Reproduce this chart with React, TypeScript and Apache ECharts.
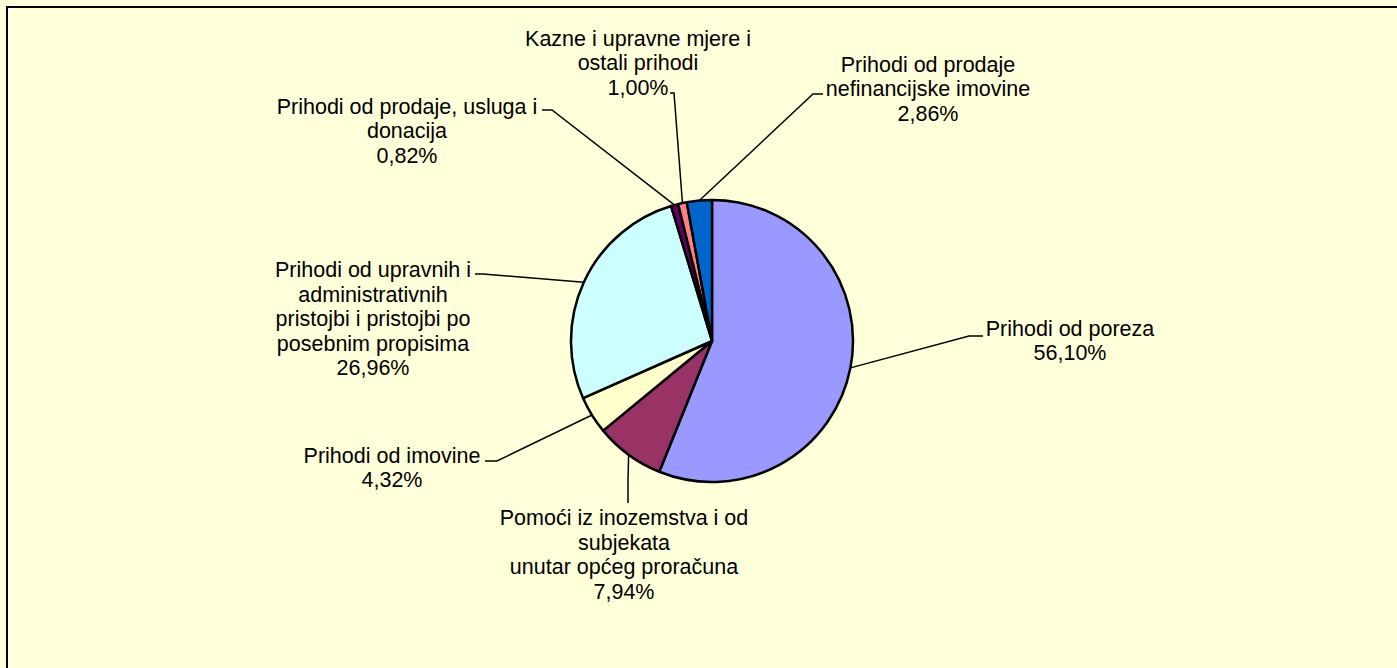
import React, { useEffect, useRef } from "react";
import * as echarts from "echarts";

const categories = [
  "Prihodi od poreza",
  "Pomoći iz inozemstva i od\nsubjekata\nunutar općeg proračuna",
  "Prihodi od imovine",
  "Prihodi od upravnih i\nadministrativnih\npristojbi i pristojbi po\nposebnim propisima",
  "Prihodi od prodaje, usluga i\ndonacija",
  "Kazne i upravne mjere i\nostali prihodi",
  "Prihodi od prodaje\nnefinancijske imovine",
];
const shares = [56.1, 7.94, 4.32, 26.96, 0.82, 1.0, 2.86];
const colors = ["#9999FF", "#993366", "#FFFFCC", "#CCFFFF", "#660066", "#FF8080", "#0066CC"];

// label layout: [centerX, centerY, elbowX, elbowY, endX, endY]
const labelSpots = [
  [1070, 341, 969, 336, 983, 336],
  [624, 555, 628, 480, 628, 503],
  [392, 468, 497, 461, 485, 461],
  [373, 319, 483, 274, 475, 274],
  [407, 131, 552, 110, 542, 110],
  [638, 63, 674, 93, 670, 93],
  [928, 89, 813, 94, 823, 94],
];

const BG = "#FFFFD9";
const CX = 712;
const CY = 341;
const R = 141;

export default function App() {
  const ref = useRef<HTMLDivElement>(null);
  useEffect(() => {
    if (!ref.current) return;
    const chart = echarts.init(ref.current, undefined, { renderer: "svg" });
    const total = shares.reduce((a, b) => a + b, 0);
    const cum: number[] = [];
    let acc = 0;
    shares.forEach((v) => {
      cum.push(acc + v / 2);
      acc += v;
    });
    chart.setOption({
      animation: false,
      backgroundColor: BG,
      textStyle: { fontFamily: "'Liberation Sans', Arial, sans-serif" },
      graphic: [
        {
          type: "rect",
          shape: { x: 7, y: 7, width: 1420, height: 700 },
          style: { fill: "none", stroke: "#000", lineWidth: 2 },
          silent: true,
          z: 100,
        },
      ],
      series: [
        {
          type: "pie",
          center: [CX, CY],
          radius: R,
          startAngle: 90,
          clockwise: true,
          avoidLabelOverlap: false,
          data: categories.map((name, i) => ({
            name,
            value: shares[i],
            itemStyle: { color: colors[i] },
          })),
          itemStyle: { borderColor: "#000", borderWidth: 2.5 },
          label: {
            show: true,
            position: "outside",
            color: "#000",
            fontSize: 21.5,
            lineHeight: 24.5,
            align: "center",
            fontFamily: "'Liberation Sans', Arial, sans-serif",
            formatter: (p: any) =>
              p.name + "\n" + Number(p.value).toFixed(2).replace(".", ",") + "%",
          },
          labelLine: {
            show: true,
            smooth: false,
            lineStyle: { color: "#000", width: 1.5 },
          },
          labelLayout: (params: any) => {
            const i = params.dataIndex;
            const s = labelSpots[i];
            let start = params.labelLinePoints && params.labelLinePoints[0];
            if (!start) {
              const ang = (cum[i] / total) * Math.PI * 2;
              start = [CX + R * Math.sin(ang), CY - R * Math.cos(ang)];
            }
            return {
              x: s[0],
              y: s[1],
              align: "center",
              verticalAlign: "middle",
              labelLinePoints: [start, [s[2], s[3]], [s[4], s[5]]],
            };
          },
          emphasis: { disabled: true },
        },
      ],
    });
    return () => chart.dispose();
  }, []);
  return (
    <div
      ref={ref}
      style={{
        position: "fixed",
        left: 0,
        top: 0,
        width: 1397,
        height: 668,
        background: BG,
      }}
    />
  );
}
